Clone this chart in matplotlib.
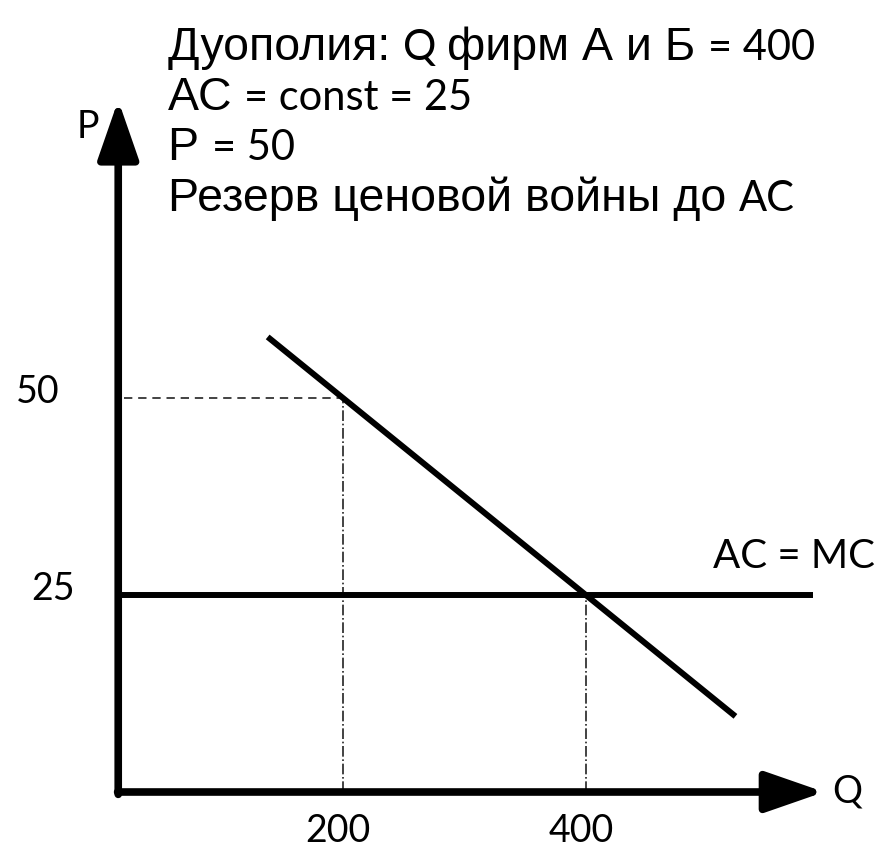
import matplotlib
matplotlib.use('Agg')
import matplotlib.pyplot as plt

# chart values
q_marks = [200, 400]
p_marks = [50, 25]
q_tick_labels = ['200', '400']
p_tick_labels = ['50', '25']
demand_q = [138, 523]
demand_p = [57.75, 9.6]
ac_q = [15, 587]
ac_p = [25, 25]
ac_label = 'AC = MC'

title_lines = [
    [('Дуополия: ', 'arial'), ('Q ', 'calibri'), ('фирм А и Б ', 'arial'), ('= 400', 'calibri')],
    [('АС ', 'arial'), ('= const = 25', 'calibri')],
    [('Р ', 'arial'), ('= 50', 'calibri')],
    [('Резерв ценовой войны до ', 'arial'), ('АС', 'calibri')],
]

fonts = {'arial': ['Liberation Sans', 'DejaVu Sans'],
         'calibri': ['Lato', 'Open Sans', 'DejaVu Sans']}
sizes = {'arial': 33.5, 'calibri': 30}

W, H = 885, 851
fig = plt.figure(figsize=(W / 100, H / 100), dpi=100)
ax = fig.add_axes([0, 0, 1, 1])
# pixel mapping: Q=0 at x=100, 1.215 px per unit; P=0 at y=792, 7.88 px per unit
ax.set_xlim(-100 / 1.215, (W - 100) / 1.215)
ax.set_ylim((792 - H) / 7.88, 792 / 7.88)
ax.axis('off')

q0 = 15  # where the P axis stands

# guide lines
ax.plot([q0 + 5, q_marks[0]], [p_marks[0], p_marks[0]], color='#222222', lw=1.2, ls=(0, (5, 3.5)))
ax.plot([q_marks[0], q_marks[0]], [0, p_marks[0]], color='#222222', lw=1.2, ls='-.')
ax.plot([q_marks[1], q_marks[1]], [0, p_marks[1]], color='#222222', lw=1.2, ls='-.')

# AC = MC and demand
ax.plot(ac_q, ac_p, color='black', lw=4.3, solid_capstyle='butt')
ax.plot(demand_q, demand_p, color='black', lw=4.3, solid_capstyle='butt')

# axes with arrows
arrow = dict(arrowstyle='-|>,head_length=3.6,head_width=1.25', mutation_scale=10,
             lw=5.5, color='black', shrinkA=0, shrinkB=0)
ax.annotate('', xy=(596, 0), xytext=(q0 - 0.5, 0), arrowprops=arrow)
ax.annotate('', xy=(q0, 87.8), xytext=(q0, -0.3), arrowprops=arrow)

cal = fonts['calibri']
ax.text(603, 0, 'Q', fontfamily=cal, fontsize=27, ha='left', va='center')
ax.text(-1.0, 84.4, 'P', fontfamily=cal, fontsize=27, ha='right', va='center')

for q, lab in zip(q_marks, q_tick_labels):
    ax.text(q - 4, -4.9, lab, fontfamily=cal, fontsize=27, ha='center', va='center')
xs = [38, 53]
for p, lab, xp in zip(p_marks, p_tick_labels, xs):
    ax.text((xp - 100) / 1.215, p + 0.8, lab, fontfamily=cal, fontsize=27, ha='center', va='center')

ax.text((875 - 100) / 1.215, ac_p[0] + 4.9, ac_label, fontfamily=cal, fontsize=29,
        ha='right', va='center')

# title block, pieces in two fonts laid side by side
fig.canvas.draw()
renderer = fig.canvas.get_renderer()
baselines = [60, 110, 160, 211]
for line, yb in zip(title_lines, baselines):
    xpix = 168
    for txt, kind in line:
        t = fig.text(xpix / W, 1 - yb / H, txt, fontfamily=fonts[kind], fontsize=sizes[kind],
                     ha='left', va='baseline')
        bb = t.get_window_extent(renderer)
        xpix = bb.x1

fig.savefig('out.png', dpi=100)
